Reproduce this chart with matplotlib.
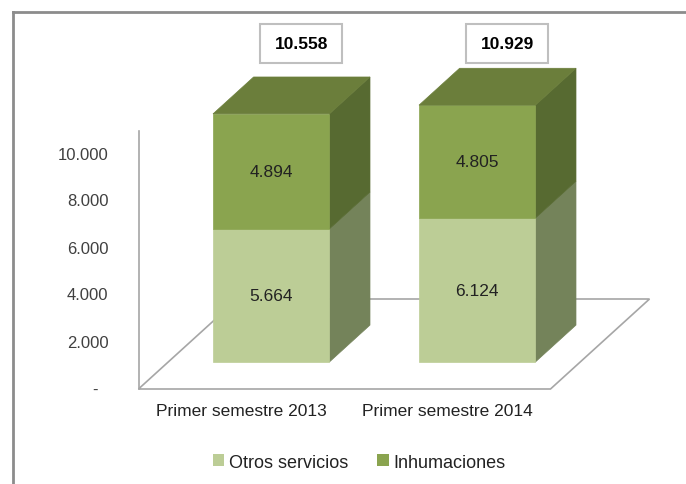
import matplotlib
matplotlib.use("Agg")
import matplotlib.pyplot as plt
from matplotlib.patches import Polygon, Rectangle, Patch
from matplotlib.lines import Line2D

plt.rcParams['font.family'] = ['Liberation Sans', 'DejaVu Sans']

# ── data ──────────────────────────────────────
categories = ["Primer semestre 2013", "Primer semestre 2014"]
series_names = ["Otros servicios", "Inhumaciones"]
otros_servicios = [5664, 6124]
inhumaciones = [4894, 4805]
totals = [10558, 10929]
y_ticks = [0, 2000, 4000, 6000, 8000, 10000]

# ── style ─────────────────────────────────────
FRONT = ["#bccd96", "#8aa44f"]
SIDE = ["#74835a", "#576a31"]
TOP = "#6b7e3b"
LINE = "#a6a6a6"
TXT = "#222222"

# ── layout (reference geometry, 100 dpi) ──────
W, H = 686, 485
PX_CAT = 206.0          # px per category step
PX_VAL = 0.0235         # px per value unit
X0_PX, Y0_PX = 241.5, 390.0
DX = 99.0 / PX_CAT      # floor depth, x units
DV = 90.0 / PX_VAL      # floor depth, value units
BAR_W = 0.565
F0, F1 = 0.30, 0.71     # bar depth range (fraction of floor depth)
AXIS_TOP = 11000


def fmt(v):
    return f"{v:,.0f}".replace(",", ".") if v else "-"


fig = plt.figure(figsize=(W / 100, H / 100), dpi=100)
ax = fig.add_axes([0, 0, 1, 1])
ax.set_xlim(-X0_PX / PX_CAT, (W - X0_PX) / PX_CAT)
ax.set_ylim((Y0_PX - H) / PX_VAL, Y0_PX / PX_VAL)
ax.axis("off")

n = len(categories)
left, right = -0.5, n - 0.5

# floor
floor = Polygon([(left, 0), (right, 0), (right + DX, DV), (left + DX, DV)],
                closed=True, facecolor="white", edgecolor=LINE, lw=1.2, zorder=1)
ax.add_patch(floor)
# value axis line
ax.plot([left, left], [0, AXIS_TOP], color=LINE, lw=1.2, zorder=1)

# tick labels
for t in y_ticks:
    xt = left - (41 if t == 0 else 30) / PX_CAT
    ax.text(xt, t, fmt(t), ha="right", va="center", fontsize=12, color="#404040")

# bars
ddx, ddv = (F1 - F0) * DX, (F1 - F0) * DV
for i in range(n):
    base = 0
    x_l = i - BAR_W / 2 + F0 * DX
    x_r = i + BAR_W / 2 + F0 * DX
    for s, vals in enumerate([otros_servicios, inhumaciones]):
        v = vals[i]
        y_b = base + F0 * DV
        y_t = base + v + F0 * DV
        side = [(x_r, y_b), (x_r + ddx, y_b + ddv), (x_r + ddx, y_t + ddv), (x_r, y_t)]
        ax.add_patch(Polygon(side, closed=True, facecolor=SIDE[s], edgecolor=SIDE[s],
                             lw=0.5, zorder=2))
        ax.add_patch(Rectangle((x_l, y_b), BAR_W, v, facecolor=FRONT[s],
                               edgecolor=FRONT[s], lw=0.5, zorder=3))
        ax.text(i + F0 * DX, (y_b + y_t) / 2, fmt(v), ha="center", va="center",
                fontsize=12.5, color=TXT, zorder=5)
        base += v
    y_t = base + F0 * DV
    top = [(x_l, y_t), (x_r, y_t), (x_r + ddx, y_t + ddv), (x_l + ddx, y_t + ddv)]
    ax.add_patch(Polygon(top, closed=True, facecolor=TOP, edgecolor=TOP, lw=0.5, zorder=3))

# total labels in boxes
LABEL_DX, LABEL_Y = 0.29, 14700
BOX_W, BOX_H = 82 / PX_CAT, 39 / PX_VAL
for i, tot in enumerate(totals):
    cx = i + LABEL_DX
    ax.add_patch(Rectangle((cx - BOX_W / 2, LABEL_Y - BOX_H / 2), BOX_W, BOX_H,
                           facecolor="white", edgecolor="#bfbfbf", lw=1.5, zorder=4))
    ax.text(cx, LABEL_Y, fmt(tot), ha="center", va="center", fontsize=12.5,
            fontweight="bold", color="black", zorder=5)

# category labels
for i, c in enumerate(categories):
    ax.text(i, -22 / PX_VAL, c, ha="center", va="center", fontsize=12.5, color=TXT)

# legend
handles = [Patch(facecolor=FRONT[k], edgecolor="none", label=series_names[k]) for k in range(2)]
fig.legend(handles=handles, loc="center", bbox_to_anchor=(359 / W, 1 - 463 / H), ncol=2,
           frameon=False, fontsize=13, handlelength=0.65, handleheight=0.65,
           handletextpad=0.25, columnspacing=1.6, labelcolor=TXT)

# outer frame (cut off at right and bottom)
fig.add_artist(Line2D([13 / W, 13 / W], [0, 1 - 13 / H], color="#8c8c8c", lw=2,
                      transform=fig.transFigure))
fig.add_artist(Line2D([13 / W, 1], [1 - 13 / H, 1 - 13 / H], color="#8c8c8c", lw=2,
                      transform=fig.transFigure))

fig.savefig("out.png", dpi=100)
